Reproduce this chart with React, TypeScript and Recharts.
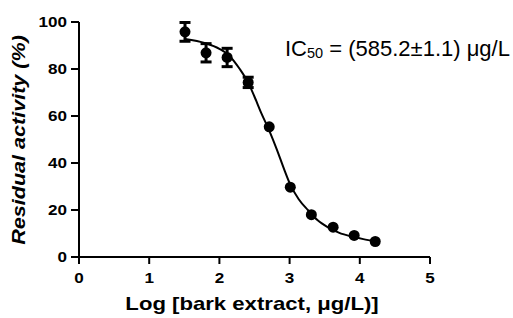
import React from 'react';
import { ComposedChart, Line, Scatter, ErrorBar, XAxis, YAxis } from 'recharts';

// measured points: log concentration, residual activity (%), SEM
const logConc = [1.51, 1.81, 2.11, 2.41, 2.71, 3.01, 3.31, 3.62, 3.92, 4.22];
const activity = [95.8, 86.9, 84.9, 74.3, 55.4, 29.7, 18.0, 12.7, 9.2, 6.6];
// error bars smaller than the symbol are hidden in the figure
const sem = [4.0, 3.9, 3.9, 2.2, 0, 0, 0, 0, 0, 0];

// fitted dose-response curve
const fitX = [1.51, 1.8, 2.0, 2.13, 2.29, 2.41, 2.5, 2.6, 2.71, 2.82, 2.92, 3.01, 3.13, 3.26, 3.4, 3.55, 3.7, 3.9, 4.05, 4.22];
const fitY = [92.8, 91.0, 88.6, 86.0, 80.0, 74.2, 68.2, 61.0, 53.8, 45.6, 37.5, 30.8, 24.6, 20.0, 15.6, 12.6, 10.4, 8.6, 7.6, 6.7];

const xTicks = [0, 1, 2, 3, 4, 5];
const yTicks = [0, 20, 40, 60, 80, 100];

const points = logConc.map((x, i) => ({ x, y: activity[i], err: sem[i] }));
const fit = fitX.map((x, i) => ({ x, y: fitY[i] }));

const FONT = '"Liberation Sans", Arial, sans-serif';

const Dot = (props: any) => {
  const { cx, cy } = props;
  if (cx == null || cy == null) return null;
  return <circle cx={cx} cy={cy} r={5.5} fill="#000" />;
};

const YTick = (props: any) => {
  const { x, y, payload } = props;
  return (
    <text
      transform={`translate(${x},${y}) scale(1.22,1)`}
      textAnchor="end"
      dy="0.355em"
      fontFamily={FONT}
      fontWeight="bold"
      fontSize={14}
      fill="#000"
    >
      {payload.value}
    </text>
  );
};

const XTick = (props: any) => {
  const { x, y, payload } = props;
  return (
    <text
      transform={`translate(${x},${y}) scale(1.22,1)`}
      textAnchor="middle"
      dy="0.71em"
      fontFamily={FONT}
      fontWeight="bold"
      fontSize={14}
      fill="#000"
    >
      {payload.value}
    </text>
  );
};

export default function App() {
  return (
    <div style={{ position: 'absolute', left: 0, top: 0 }}>
      <ComposedChart width={513} height={318} margin={{ top: 22, right: 83, bottom: 0, left: 0 }}>
        <XAxis
          type="number"
          dataKey="x"
          domain={[0, 5]}
          ticks={xTicks}
          height={61}
          axisLine={{ stroke: '#000', strokeWidth: 2 }}
          tickLine={{ stroke: '#000', strokeWidth: 2 }}
          tickSize={7}
          tickMargin={9}
          tick={<XTick />}
          allowDataOverflow
        />
        <YAxis
          type="number"
          dataKey="y"
          domain={[0, 100]}
          ticks={yTicks}
          width={79}
          axisLine={{ stroke: '#000', strokeWidth: 2 }}
          tickLine={{ stroke: '#000', strokeWidth: 2 }}
          tickSize={8}
          tickMargin={4}
          tick={<YTick />}
          allowDataOverflow
        />
        <Line
          data={fit}
          dataKey="y"
          type="monotone"
          stroke="#000"
          strokeWidth={2}
          dot={false}
          activeDot={false}
          isAnimationActive={false}
        />
        <Scatter data={points} dataKey="y" shape={<Dot />} isAnimationActive={false}>
          <ErrorBar dataKey="err" direction="y" width={5.5} stroke="#000" strokeWidth={3} />
        </Scatter>
        <text
          transform="translate(252,310) scale(1.19,1)"
          textAnchor="middle"
          fontFamily={FONT}
          fontWeight="bold"
          fontSize={18.6}
          fill="#000"
        >
          Log [bark extract, μg/L)]
        </text>
        <text
          transform="translate(25,140) rotate(-90) scale(1.16,1)"
          textAnchor="middle"
          fontFamily={FONT}
          fontWeight="bold"
          fontStyle="italic"
          fontSize={18.6}
          fill="#000"
        >
          Residual activity (%)
        </text>
        <text x={285} y={56} fontFamily={FONT} fontSize={22} fill="#000">
          IC
          <tspan fontSize={14.5} dy={2}>50</tspan>
          <tspan dy={-2}> = (585.2±1.1) μg/L</tspan>
        </text>
      </ComposedChart>
    </div>
  );
}
